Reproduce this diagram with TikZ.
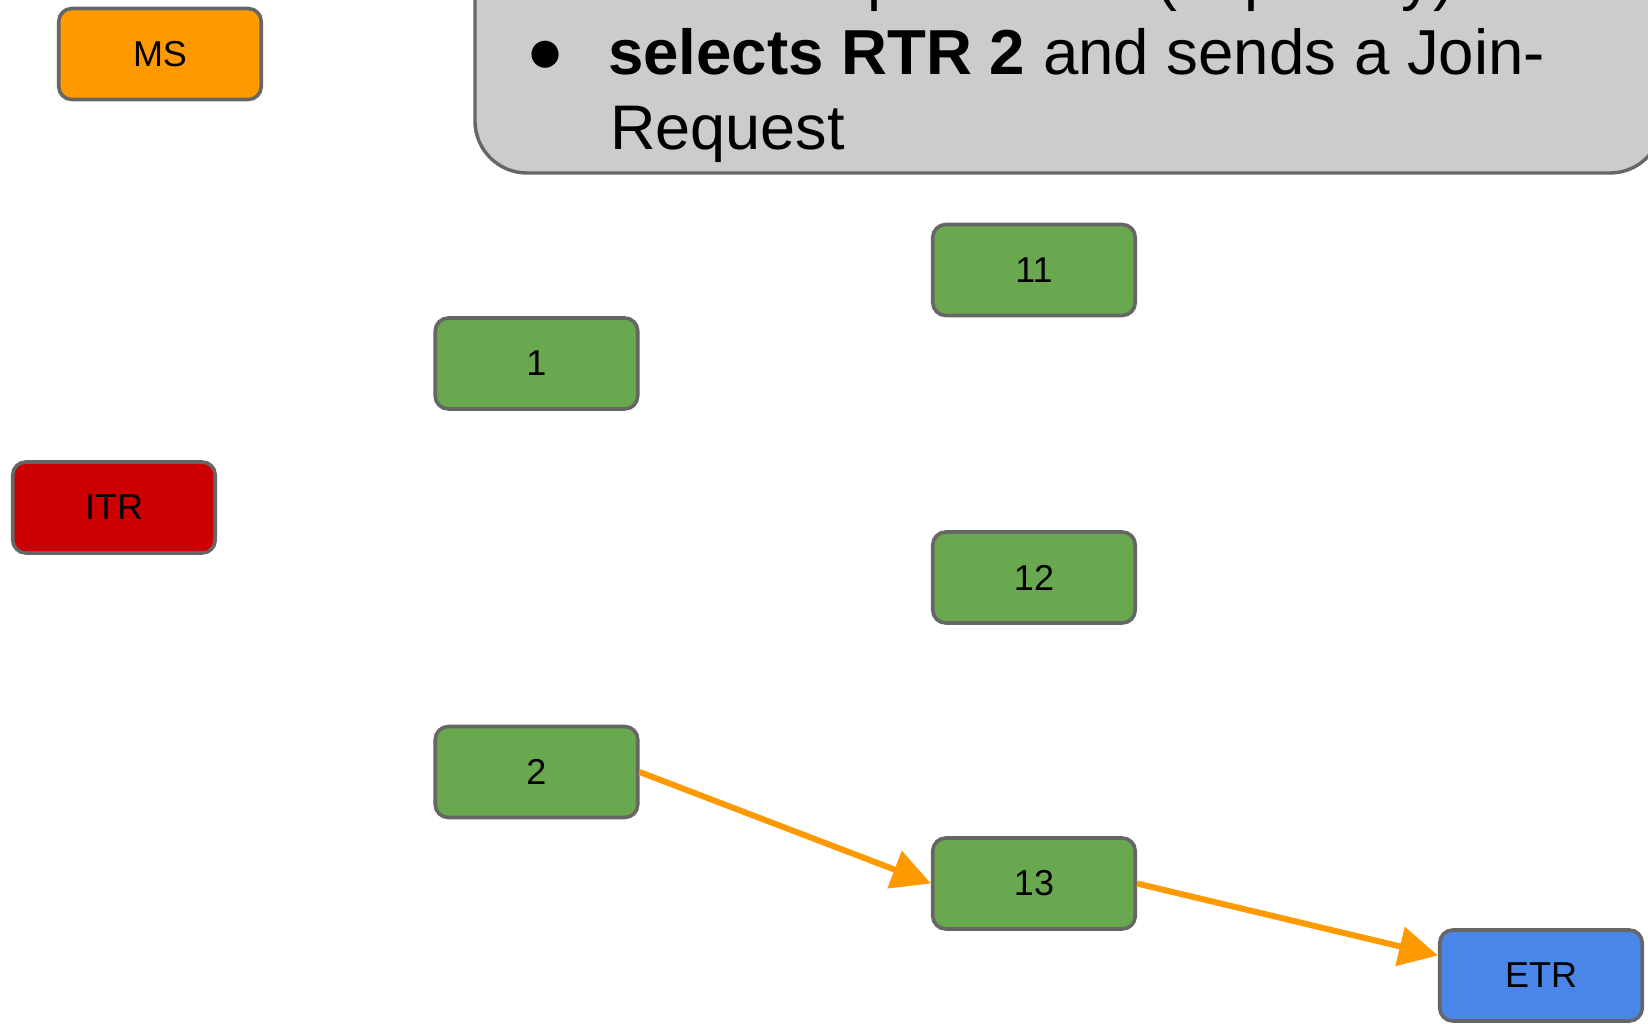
\documentclass[tikz,border=0pt]{standalone}
\usepackage{fontspec}
\setmainfont{Liberation Sans}
\usetikzlibrary{arrows.meta}

\definecolor{rtrgreen}{HTML}{6AA84F}
\definecolor{msorange}{HTML}{FF9900}
\definecolor{itrred}{HTML}{CC0000}
\definecolor{etrblue}{HTML}{4A86E8}
\definecolor{edgegray}{HTML}{666666}
\definecolor{notegray}{HTML}{CCCCCC}

\tikzset{
  router/.style={draw=edgegray, line width=3.6pt, rounded corners=13pt,
    minimum width=202.5pt, minimum height=91pt, inner sep=0pt,
    font=\fontsize{36}{43}\selectfont, text=black},
  rtrbox/.style={router, fill=rtrgreen},
  flow/.style={draw=msorange, line width=6pt,
    -{Triangle[length=39pt,width=39pt]}},
  notetext/.style={inner sep=0pt, anchor=base west,
    font=\fontsize{63}{75}\selectfont, text=black},
}

\begin{document}
\begin{tikzpicture}[x=1pt,y=-1pt]
  \useasboundingbox (0,0) rectangle (1648,1024);
  \clip (0,0) rectangle (1648,1024);

  % speech panel at the top
  \draw[draw=edgegray, fill=notegray, line width=3.4pt, rounded corners=52pt]
    (475,-120) rectangle (1662,173);
  \node[notetext] (line1) at (608,-1) {sorts the peer RTR (in priority)};
  \node[inner sep=0pt, font=\fontsize{63}{75}\selectfont] (dot) at (546,57) {●};
  \node[notetext, font=\fontsize{63.6}{75}\selectfont] (line2) at (608,75)
    {\textbf{selects RTR 2} and sends a Join-};
  \node[notetext] (line3) at (610,150) {Request};

  % routers
  \node[router, fill=msorange] (MS)  at (160,54)    {MS};
  \node[router, fill=itrred]   (ITR) at (114,507.5) {ITR};
  \node[rtrbox] (r1)  at (536.5,363.5) {1};
  \node[rtrbox] (r2)  at (536.5,772)   {2};
  \node[rtrbox] (r11) at (1034,270)    {11};
  \node[rtrbox] (r12) at (1034,577.5)  {12};
  \node[rtrbox] (r13) at (1034,883.5)  {13};
  \node[router, fill=etrblue] (ETR) at (1541,975.5) {ETR};

  % join path
  \draw[flow] (r2.east) -- (r13.west);
  \draw[flow] (r13.east) -- (ETR.169);
\end{tikzpicture}
\end{document}
